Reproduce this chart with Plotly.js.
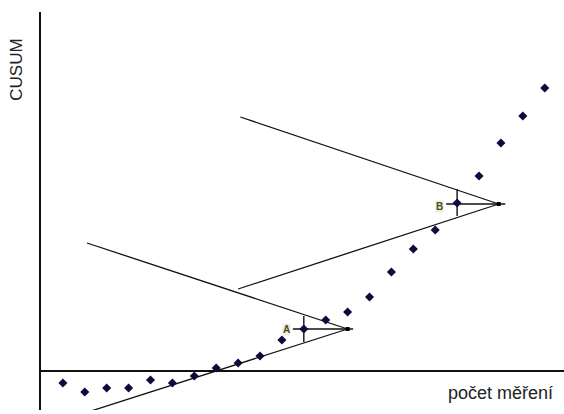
<!DOCTYPE html>
<html>
<head>
<meta charset="utf-8">
<script src="https://cdn.plot.ly/plotly-3.0.1.min.js"></script>
<style>html,body{margin:0;padding:0;background:#fff;}#chart{width:564px;height:414px;}</style>
</head>
<body>
<div id="chart"></div>
<script>
const measurement = [1,2,3,4,5,6,7,8,9,10,11,12,13,14,15,16,17,18,19,20,21,22,23];
const cusum = [-1.2,-2.1,-1.7,-1.7,-0.9,-1.2,-0.5,0.3,0.8,1.5,3.1,4.2,5.1,5.9,7.4,9.9,12.2,14.1,16.8,19.5,22.8,25.5,28.3];

// V-mask A (anchored at measurement 12)
const maskA_upper_x = [2.1, 14];
const maskA_upper_y = [12.8, 4.2];
const maskA_lower_x = [14, 2.0];
const maskA_lower_y = [4.2, -4.2];
const maskA_horiz_x = [11.5, 14.25];
const maskA_horiz_y = [4.2, 4.2];
const maskA_tick_x = [12, 12];
const maskA_tick_y = [5.5, 2.9];
const maskA_vertex_x = [14];
const maskA_vertex_y = [4.2];

// V-mask B (anchored at measurement 19)
const maskB_upper_x = [9.1, 20.9];
const maskB_upper_y = [25.4, 16.7];
const maskB_lower_x = [20.9, 9.0];
const maskB_lower_y = [16.7, 8.2];
const maskB_horiz_x = [18.5, 21.2];
const maskB_horiz_y = [16.7, 16.7];
const maskB_tick_x = [19, 19];
const maskB_tick_y = [18.2, 15.5];
const maskB_vertex_x = [20.9];
const maskB_vertex_y = [16.7];

function seg(x, y, w){ return {x:x, y:y, mode:'lines', line:{color:'#111', width:w||1.3}, hoverinfo:'skip', showlegend:false}; }

const traces = [
  seg(maskA_upper_x, maskA_upper_y),
  seg(maskA_lower_x, maskA_lower_y),
  seg(maskA_horiz_x, maskA_horiz_y, 1.4),
  seg(maskA_tick_x, maskA_tick_y, 1.4),
  seg(maskB_upper_x, maskB_upper_y),
  seg(maskB_lower_x, maskB_lower_y),
  seg(maskB_horiz_x, maskB_horiz_y, 1.4),
  seg(maskB_tick_x, maskB_tick_y, 1.4),
  {x:maskA_vertex_x.concat(maskB_vertex_x), y:maskA_vertex_y.concat(maskB_vertex_y), mode:'markers',
   marker:{symbol:'square', size:4, color:'#000'}, hoverinfo:'skip', showlegend:false},
  {x:measurement, y:cusum, mode:'markers', marker:{symbol:'diamond', size:7, color:'#0b0b3d'}, showlegend:false}
];

const layout = {
  width:564, height:414,
  margin:{l:41, r:0, t:12, b:4},
  paper_bgcolor:'#fff', plot_bgcolor:'#fff',
  showlegend:false,
  xaxis:{range:[0, 23.88], showgrid:false, zeroline:false, showticklabels:false, ticks:'',
         showline:false},
  yaxis:{range:[-3.9, 35.9], showgrid:false, showticklabels:false, ticks:'',
         zeroline:true, zerolinecolor:'#111', zerolinewidth:1.6,
         showline:true, linecolor:'#111', linewidth:1.6},
  annotations:[
    {text:'CUSUM', xref:'paper', yref:'paper', x:-0.0459, y:0.855, textangle:-90,
     showarrow:false, xanchor:'center', yanchor:'middle',
     font:{family:'Liberation Sans, Arial, sans-serif', size:17, color:'#222'}},
    {text:'počet měření', xref:'paper', yref:'paper', x:0.879, y:0.043,
     showarrow:false, xanchor:'center', yanchor:'middle',
     font:{family:'Liberation Sans, Arial, sans-serif', size:18, color:'#222'}},
    {text:'<b>A</b>', xref:'x', yref:'y', x:11.2, y:4.2, showarrow:false,
     xanchor:'center', yanchor:'middle', bgcolor:'#eeeedd',
     font:{family:'Liberation Sans, Arial, sans-serif', size:10, color:'#4a4a1c'}, borderpad:0},
    {text:'<b>B</b>', xref:'x', yref:'y', x:18.2, y:16.5, showarrow:false,
     xanchor:'center', yanchor:'middle', bgcolor:'#eeeedd',
     font:{family:'Liberation Sans, Arial, sans-serif', size:10, color:'#4a4a1c'}, borderpad:0}
  ]
};

Plotly.newPlot('chart', traces, layout, {displayModeBar:false, staticPlot:true});
</script>
</body>
</html>
